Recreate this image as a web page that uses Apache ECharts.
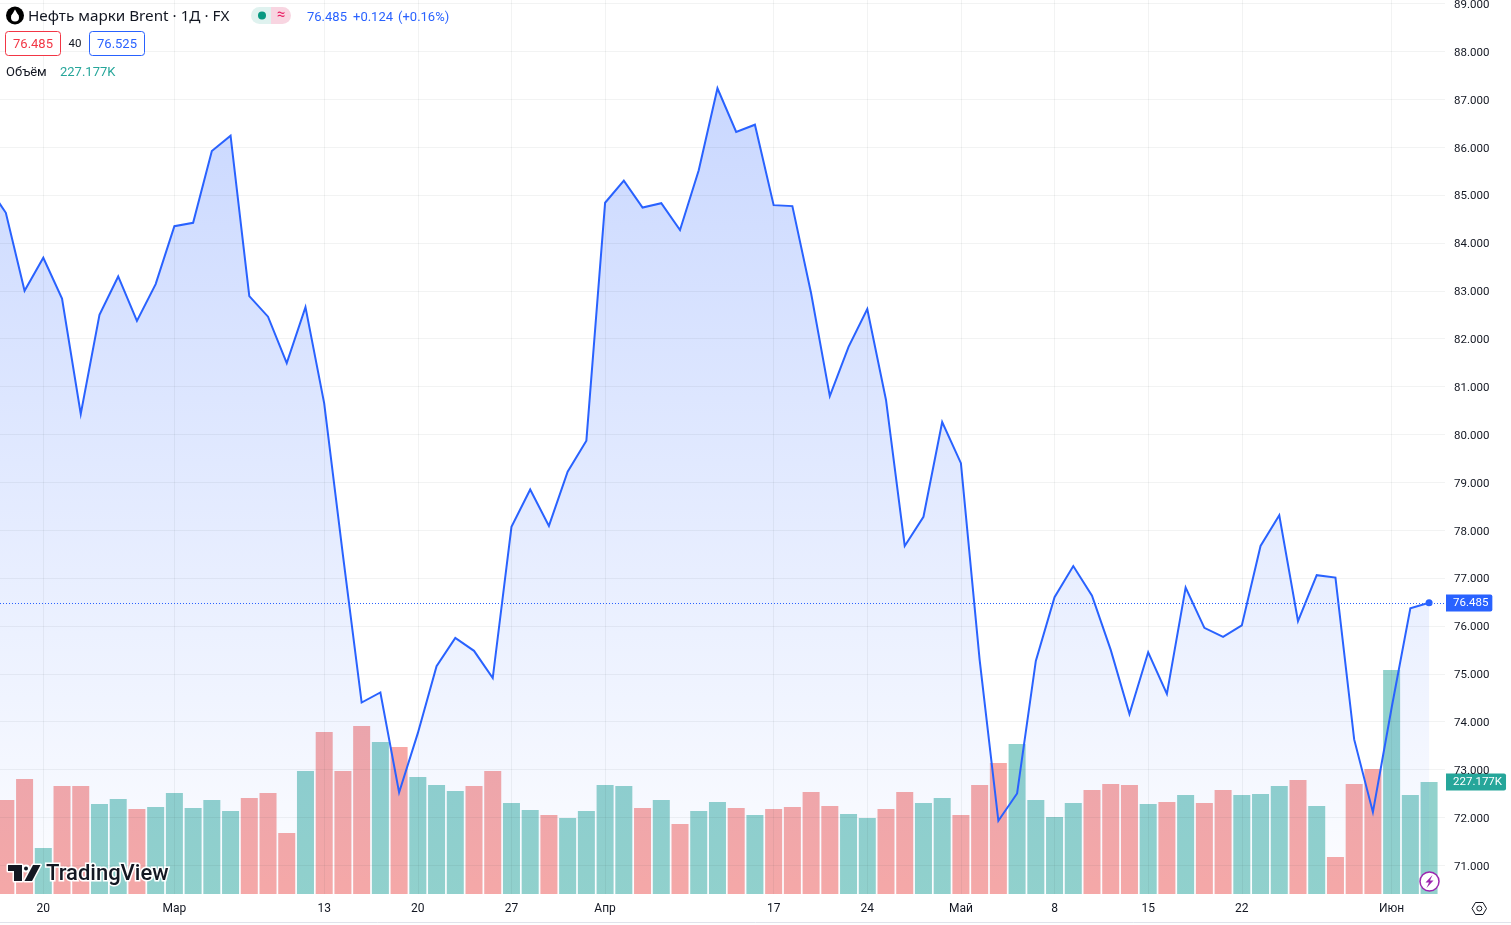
<!DOCTYPE html>
<html>
<head>
<meta charset="utf-8">
<title>Нефть марки Brent</title>
<style>
    html, body { margin: 0; padding: 0; background: #fff; }
    #chart { width: 1511px; height: 925px; }
</style>
<script src="https://cdn.jsdelivr.net/npm/echarts@6/dist/echarts.min.js"></script>
</head>
<body>
<div id="chart"></div>
<script>
// цена закрытия по дням (первая точка уходит за левый край)
var priceValues = [
    85.21, 84.63, 83.00, 83.69, 82.84, 80.43, 82.50, 83.30, 82.37, 83.14,
    84.35, 84.42, 85.92, 86.24, 82.89, 82.46, 81.49, 82.66, 80.65, 77.48,
    74.40, 74.61, 72.52, 73.76, 75.16, 75.75, 75.48, 74.91, 78.07, 78.85,
    78.09, 79.22, 79.87, 84.84, 85.30, 84.74, 84.83, 84.27, 85.52, 87.23,
    86.32, 86.47, 84.79, 84.77, 82.95, 80.80, 81.83, 82.62, 80.72, 77.67,
    78.28, 80.26, 79.40, 75.29, 71.93, 72.50, 75.27, 76.60, 77.25, 76.63,
    75.50, 74.16, 75.45, 74.58, 76.80, 75.96, 75.77, 76.01, 77.67, 78.31,
    76.10, 77.06, 77.01, 73.63, 72.11, 74.29, 76.37, 76.485
];

// объём, тысячи
var volumeValues = [
    null, 190.6, 233.2, 93.3, 219, 219, 182.5, 192.7, 172.4, 176.4,
    204.8, 174.4, 190.6, 168.3, 194.7, 204.8, 123.7, 249.4, 328.5, 249.4,
    340.7, 308.3, 298.1, 237.3, 221, 208.9, 219, 249.4, 184.5, 170.4,
    160.2, 154.1, 168.3, 221, 219, 174.4, 190.6, 142, 168.3, 186.6,
    174.4, 160.2, 172.4, 176.4, 206.9, 178.5, 162.2, 154.1, 172.4, 206.9,
    184.5, 194.7, 160.2, 221, 265.7, 304.2, 190.6, 156.2, 184.5, 210.9,
    223.1, 221, 182.5, 186.6, 200.8, 184.5, 210.9, 200.8, 202.8, 219,
    231.2, 178.5, 75, 223.1, 253.5, 454.3, 200.8, 227.177
];

// направление бара объёма: 1 растущий, -1 падающий
var volumeDirections = [
    0, -1, -1, 1, -1, -1, 1, 1, -1, 1,
    1, 1, 1, 1, -1, -1, -1, 1, -1, -1,
    -1, 1, -1, 1, 1, 1, -1, -1, 1, 1,
    -1, 1, 1, 1, 1, -1, 1, -1, 1, 1,
    -1, 1, -1, -1, -1, -1, 1, 1, -1, -1,
    1, 1, -1, -1, -1, 1, 1, 1, 1, -1,
    -1, -1, 1, -1, 1, -1, -1, 1, 1, 1,
    -1, 1, -1, -1, -1, 1, 1, 1
];

// подписи оси времени
var tickIndexes = [3, 10, 18, 23, 28, 33, 42, 47, 52, 57, 62, 67, 75];
var tickLabels = ['20', 'Мар', '13', '20', '27', 'Апр', '17', '24', 'Май', '8', '15', '22', 'Июн'];

// подписи оси цены
var priceTicks = [71, 72, 73, 74, 75, 76, 77, 78, 79, 80, 81, 82, 83, 84, 85, 86, 87, 88, 89];

var lastPrice = 76.485;
var lastVolume = 227.177;

var 字体 = 'Roboto, "Noto Sans", sans-serif';
var 标题字体 = '"Noto Sans", Roboto, sans-serif';
var 蓝 = '#2962ff';
var 绿 = '#26a69a';
var 红 = '#f23645';
var 墨 = '#131722';
var 网格 = 'rgba(42,46,57,0.06)';

// 成交量柱子
var volumeData = volumeValues.map(function (v, i) {
    return {
        value: [i, v],
        itemStyle: { color: volumeDirections[i] > 0 ? 'rgba(38,166,154,0.5)' : 'rgba(239,83,80,0.5)' }
    };
});
var priceData = priceValues.map(function (v, i) { return [i, v]; });

function text(x, y, str, color, size, extra) {
    return {
        type: 'text', x: x, y: y, silent: true,
        style: Object.assign({
            text: str, fill: color, font: size + 'px ' + 字体,
            verticalAlign: 'middle'
        }, extra || {})
    };
}

function box(x, y, w, h, color) {
    return {
        type: 'rect', silent: true,
        shape: { x: x + 0.5, y: y + 0.5, width: w, height: h, r: 3 },
        style: { fill: '#fff', stroke: color, lineWidth: 1 }
    };
}

function poly(points, fill, stroke) {
    return {
        type: 'polygon', silent: true,
        shape: { points: points },
        style: stroke ? { fill: fill, stroke: stroke, lineWidth: 3, lineJoin: 'round' } : { fill: fill }
    };
}

var logoT = [[8, 865], [22, 865], [22, 881], [14, 881], [14, 871], [8, 871]];
var logoV = [[33, 865], [40.5, 865], [32, 881], [24.5, 881]];

// 顶部图例 + 水印 + 小图标
var overlay = [
    // 油滴图标
    { type: 'circle', silent: true, shape: { cx: 15, cy: 15.5, r: 9 }, style: { fill: '#000' } },
    { type: 'circle', silent: true, shape: { cx: 15, cy: 17.5, r: 4 }, style: { fill: '#fff' } },
    poly([[15, 9.5], [18.6, 15.8], [11.4, 15.8]], '#fff'),
    text(28, 17, 'Нефть марки Brent · 1Д · FX', 墨, 15.25, { font: '15.25px ' + 标题字体 }),

    // 状态胶囊
    { type: 'rect', silent: true, shape: { x: 251, y: 7, width: 20, height: 17, r: [8.5, 0, 0, 8.5] }, style: { fill: '#dff2ef' } },
    { type: 'rect', silent: true, shape: { x: 271, y: 7, width: 20, height: 17, r: [0, 8.5, 8.5, 0] }, style: { fill: '#f8d5e1' } },
    { type: 'circle', silent: true, shape: { cx: 262, cy: 15.5, r: 4 }, style: { fill: '#089981' } },
    text(281, 15, '≈', '#e91e63', 15, { align: 'center' }),

    text(307, 18, '76.485', 蓝, 13),
    text(353, 18, '+0.124', 蓝, 13),
    text(398, 18, '(+0.16%)', 蓝, 13),

    box(5, 31, 55, 24, 红),
    text(33, 44.5, '76.485', 红, 13, { align: 'center' }),
    text(75, 44.5, '40', 墨, 11.5, { align: 'center' }),
    box(89, 31, 55, 24, 蓝),
    text(117, 44.5, '76.525', 蓝, 13, { align: 'center' }),

    text(6, 73, 'Объём', 墨, 13),
    text(60, 73, '227.177K', 绿, 13),

    // TradingView 水印
    poly(logoT, 墨, '#fff'),
    { type: 'circle', silent: true, shape: { cx: 26, cy: 868.5, r: 3 }, style: { fill: 墨, stroke: '#fff', lineWidth: 2 } },
    poly(logoV, 墨, '#fff'),
    poly(logoT, 墨),
    poly(logoV, 墨),
    text(46, 874.5, 'TradingView', 墨, 22, {
        font: '500 22px ' + 字体, stroke: '#fff', lineWidth: 3
    }),

    // 闪电
    { type: 'circle', silent: true, shape: { cx: 1429.5, cy: 881.5, r: 9.5 }, style: { fill: '#fff', stroke: '#9c27b0', lineWidth: 1.5 } },
    poly([[1432.5, 875], [1425.5, 882.5], [1429, 882.5], [1426.5, 888], [1433.5, 880.5], [1430, 880.5]], '#9c27b0'),

    // 右下角设置按钮
    {
        type: 'polygon', silent: true,
        shape: { points: [[1472, 908.5], [1475.5, 902.5], [1483, 902.5], [1486.5, 908.5], [1483, 914.5], [1475.5, 914.5]] },
        style: { fill: 'none', stroke: 墨, lineWidth: 1 }
    },
    { type: 'circle', silent: true, shape: { cx: 1479.3, cy: 908.5, r: 2.5 }, style: { fill: 'none', stroke: 墨, lineWidth: 1 } },

    // 底边线
    { type: 'line', silent: true, shape: { x1: 0, y1: 922.5, x2: 1511, y2: 922.5 }, style: { stroke: '#e0e3eb', lineWidth: 1 } }
];
// 放到系列上面
overlay.forEach(function (el, i) { el.z = 100 + i; });

var option = {
    animation: false,
    backgroundColor: '#fff',
    textStyle: { fontFamily: 字体 },
    // outerBoundsMode 关掉，否则顶部 89.000 会把网格往下挤
    grid: { left: 0, right: 66, top: 0, bottom: 31, outerBoundsMode: 'none' },
    xAxis: {
        type: 'value',
        z: 5,
        min: 0.688,
        max: 77.85,
        axisLine: { show: false },
        axisTick: { show: false, customValues: tickIndexes },
        axisLabel: {
            customValues: tickIndexes,
            color: 墨,
            fontSize: 12,
            margin: 9,
            showMinLabel: true,
            showMaxLabel: true,
            formatter: function (value) {
                return tickLabels[tickIndexes.indexOf(Math.round(value))];
            }
        },
        splitLine: { show: true, lineStyle: { color: 网格, width: 1 } }
    },
    yAxis: [
        {
            type: 'value',
            z: 5,
            position: 'right',
            min: 70.4,
            max: 89.075,
            axisLine: { show: false },
            axisTick: { show: false, customValues: priceTicks },
            axisLabel: {
                customValues: priceTicks,
                color: 墨,
                fontSize: 11.5,
                margin: 9,
                // 文字整体往下挪一点
                rich: { p: { color: 墨, fontSize: 11.5, padding: [3, 0, 0, 0] } },
                formatter: function (value) { return '{p|' + value.toFixed(3) + '}'; }
            },
            splitLine: { show: true, lineStyle: { color: 网格, width: 1 } }
        },
        {
            type: 'value',
            min: 0,
            max: 1813,
            show: false,
            splitLine: { show: false }
        }
    ],
    series: [
        {
            type: 'bar',
            yAxisIndex: 1,
            z: 2,
            barWidth: 17,
            data: volumeData,
            markLine: {
                silent: true,
                symbol: 'none',
                lineStyle: { width: 0, color: 'transparent' },
                data: [{ yAxis: lastVolume }],
                label: {
                    position: 'end',
                    distance: 1,
                    formatter: lastVolume.toFixed(3) + 'K',
                    color: '#fff',
                    fontSize: 11.5,
                    backgroundColor: '#26a69a',
                    padding: [3, 4, 2, 7],
                    borderRadius: [0, 2, 2, 0]
                }
            }
        },
        {
            type: 'line',
            z: 3,
            showSymbol: false,
            lineStyle: { color: 蓝, width: 2, join: 'miter' },
            itemStyle: { color: 蓝 },
            areaStyle: {
                opacity: 1,
                color: {
                    type: 'linear', x: 0, y: 0, x2: 0, y2: 1,
                    colorStops: [
                        { offset: 0, color: 'rgba(41,98,255,0.25)' },
                        { offset: 1, color: 'rgba(41,98,255,0.01)' }
                    ]
                }
            },
            data: priceData,
            markLine: {
                silent: true,
                symbol: 'none',
                lineStyle: { color: 蓝, type: [1, 2], width: 1 },
                data: [{ yAxis: lastPrice }],
                label: {
                    position: 'end',
                    distance: 1,
                    formatter: lastPrice.toFixed(3),
                    color: '#fff',
                    fontSize: 11.5,
                    backgroundColor: 蓝,
                    padding: [3, 4, 2, 7],
                    borderRadius: [0, 2, 2, 0]
                }
            },
            markPoint: {
                silent: true,
                symbol: 'circle',
                symbolSize: 7,
                itemStyle: { color: 蓝 },
                label: { show: false },
                data: [{ coord: [priceValues.length - 1, lastPrice] }]
            }
        }
    ],
    graphic: { elements: overlay }
};

var myechart = echarts.init(document.getElementById('chart'));
myechart.setOption(option);

window.addEventListener('resize', function () {
    myechart.resize();
});
</script>
</body>
</html>
